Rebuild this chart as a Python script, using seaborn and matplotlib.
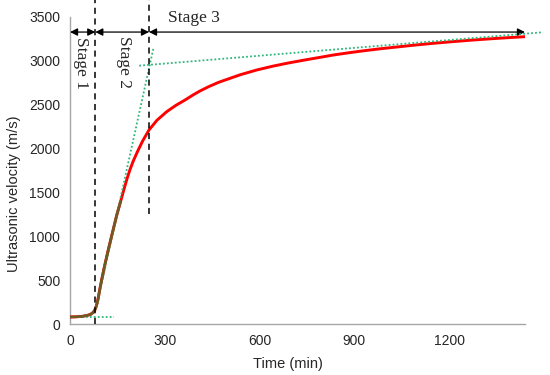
import numpy as np
import pandas as pd
import matplotlib
matplotlib.use('Agg')
import matplotlib.pyplot as plt
import seaborn as sb

# ultrasonic velocity curve
time_min = [0, 20, 40, 55, 65, 72, 78, 83, 88, 93, 100, 110, 121, 135, 148, 160, 170, 180,
            190, 200, 215, 230, 250, 275, 306, 335, 364, 390, 412, 440, 470, 500, 540,
            591, 640, 690, 740, 790, 834, 880, 930, 985, 1040, 1095, 1150, 1205, 1260,
            1310, 1360, 1400, 1440]
velocity = [80, 82, 88, 98, 110, 128, 155, 200, 270, 370, 500, 670, 843, 1050, 1241, 1395, 1525, 1650,
            1760, 1855, 1975, 2085, 2210, 2320, 2418, 2490, 2551, 2610, 2655, 2705, 2752, 2790, 2840,
            2893, 2935, 2972, 3005, 3036, 3064, 3088, 3112, 3136, 3157, 3178, 3197, 3214, 3230,
            3243, 3255, 3264, 3272]

# tangent lines (start/end)
tan1_t = [0, 140]
tan1_v = [85, 85]
tan2_t = [84, 264]
tan2_v = [197, 3140]
tan3_t = [219, 1494]
tan3_v = [2942, 3322]

# stage boundaries
stage_bounds = [0, 80, 250, 1440]
stage_names = ['Stage 1', 'Stage 2', 'Stage 3']

df = pd.DataFrame({'Time (min)': time_min, 'Ultrasonic velocity (m/s)': velocity})
early = df[df['Time (min)'] <= 165]

sb.set_style('white')
plt.rcParams['font.family'] = ['Liberation Sans', 'DejaVu Sans']

fig = plt.figure(figsize=(5.5, 3.75), dpi=100)
ax = fig.add_axes([0.1273, 0.136, 0.8272, 0.8195])

sb.lineplot(data=df, x='Time (min)', y='Ultrasonic velocity (m/s)', ax=ax,
            color='#ff0000', linewidth=2.1, zorder=3)

green = '#2db87a'
for tt, vv in [(tan1_t, tan1_v), (tan2_t, tan2_v), (tan3_t, tan3_v)]:
    ax.plot(tt, vv, color=green, linestyle=(0, (1, 1.2)), linewidth=1.3,
            zorder=4, clip_on=False)

# early part of the curve shows dark olive where the lines overlap
sb.lineplot(data=early, x='Time (min)', y='Ultrasonic velocity (m/s)', ax=ax,
            color='#6e5a22', linewidth=1.9, zorder=4.5)

# dashed stage boundaries
ax.plot([stage_bounds[1]] * 2, [0, 3700], color='black', linestyle=(0, (4, 3)),
        linewidth=1.1, clip_on=False, zorder=5)
ax.plot([stage_bounds[2]] * 2, [1250, 3700], color='black', linestyle=(0, (4, 3)),
        linewidth=1.1, clip_on=False, zorder=5)

# stage arrows
arrow_y = 3325
for i in range(3):
    ax.annotate('', xy=(stage_bounds[i + 1], arrow_y), xytext=(stage_bounds[i], arrow_y),
                arrowprops=dict(arrowstyle='<|-|>', color='black', lw=0.9,
                                mutation_scale=11, shrinkA=0, shrinkB=0),
                annotation_clip=False)

serif = ['Liberation Serif', 'DejaVu Serif']
ax.text(34, 2972, stage_names[0], rotation=270, ha='center', va='center',
        fontsize=12.5, family=serif)
ax.text(170, 2988, stage_names[1], rotation=270, ha='center', va='center',
        fontsize=12.5, family=serif)
ax.text(310, 3490, stage_names[2], ha='left', va='center',
        fontsize=12.5, family=serif)

ax.set_xlim(0, 1440)
ax.set_ylim(0, 3500)
ax.set_xticks([0, 300, 600, 900, 1200])
ax.set_yticks(np.arange(0, 3501, 500))
ax.tick_params(axis='both', labelsize=10, length=4, width=0.8, color='#a6a6a6',
               direction='out', pad=3)
ax.set_xlabel('Time (min)', fontsize=10.5)
ax.set_ylabel('Ultrasonic velocity (m/s)', fontsize=10.5)
ax.xaxis.set_label_coords(0.48, -0.108)
ax.yaxis.set_label_coords(-0.108, 0.423)

for side in ['top', 'right']:
    ax.spines[side].set_visible(False)
for side in ['left', 'bottom']:
    ax.spines[side].set_color('#a6a6a6')
    ax.spines[side].set_linewidth(1.0)

fig.savefig('out.png', dpi=100)
